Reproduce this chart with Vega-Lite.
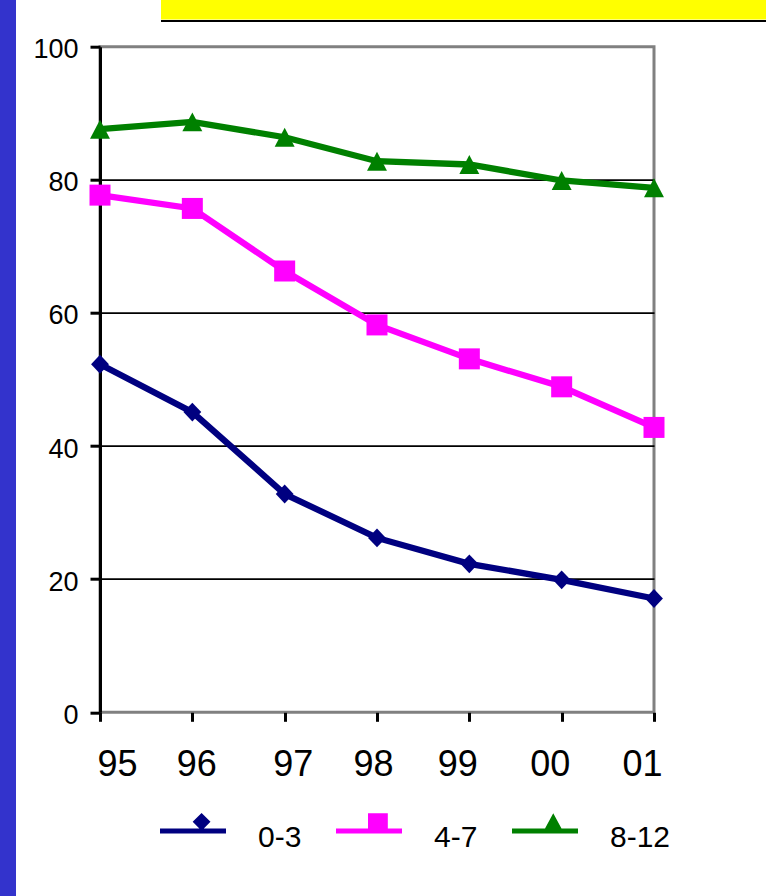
{
  "$schema": "https://vega.github.io/schema/vega-lite/v6.json",
  "padding": 0,
  "background": "white",
  "config": {
    "view": {"stroke": null},
    "font": "Liberation Sans"
  },
  "spacing": 0,
  "bounds": "flush",
  "hconcat": [
    {
      "width": 16,
      "height": 896,
      "view": {"fill": "#3333CC"},
      "data": {"values": []},
      "mark": "rect"
    },
    {
      "spacing": 46.7,
      "bounds": "flush",
      "vconcat": [
        {
          "spacing": 0,
          "bounds": "flush",
          "hconcat": [
            {"width": 145, "height": 21.5, "data": {"values": []}, "mark": "rect"},
            {
              "spacing": 0,
              "bounds": "flush",
              "vconcat": [
                {"width": 605, "height": 19.5, "view": {"fill": "#FFFF00"}, "data": {"values": []}, "mark": "rect"},
                {"width": 605, "height": 2, "view": {"fill": "#000000"}, "data": {"values": []}, "mark": "rect"}
              ]
            }
          ]
        },
        {
          "spacing": 0,
          "bounds": "flush",
          "hconcat": [
            {"width": 84, "height": 665.6, "data": {"values": []}, "mark": "rect"},
            {
              "width": 554,
              "height": 665.6,
              "view": {"stroke": "#808080", "strokeWidth": 3},
              "data": {
                "values": [
                  {"series": "0-3", "year": "95", "value": 52.3},
                  {"series": "0-3", "year": "96", "value": 45.1},
                  {"series": "0-3", "year": "97", "value": 32.8},
                  {"series": "0-3", "year": "98", "value": 26.2},
                  {"series": "0-3", "year": "99", "value": 22.3},
                  {"series": "0-3", "year": "00", "value": 19.9},
                  {"series": "0-3", "year": "01", "value": 17.1},
                  {"series": "4-7", "year": "95", "value": 77.7},
                  {"series": "4-7", "year": "96", "value": 75.7},
                  {"series": "4-7", "year": "97", "value": 66.3},
                  {"series": "4-7", "year": "98", "value": 58.2},
                  {"series": "4-7", "year": "99", "value": 53.1},
                  {"series": "4-7", "year": "00", "value": 48.9},
                  {"series": "4-7", "year": "01", "value": 42.8},
                  {"series": "8-12", "year": "95", "value": 87.6},
                  {"series": "8-12", "year": "96", "value": 88.7},
                  {"series": "8-12", "year": "97", "value": 86.4},
                  {"series": "8-12", "year": "98", "value": 82.8},
                  {"series": "8-12", "year": "99", "value": 82.3},
                  {"series": "8-12", "year": "00", "value": 79.9},
                  {"series": "8-12", "year": "01", "value": 78.8}
                ]
              },
              "encoding": {
                "x": {
                  "field": "year",
                  "type": "ordinal",
                  "sort": ["95", "96", "97", "98", "99", "00", "01"],
                  "scale": {"type": "point", "padding": 0},
                  "axis": {
                    "title": null,
                    "domain": false,
                    "grid": false,
                    "tickColor": "black",
                    "tickWidth": 3,
                    "tickSize": 9,
                    "labelAngle": 0,
                    "labelFontSize": 36,
                    "labelColor": "black",
                    "labelPadding": 26,
                    "labelOffset": {
                      "condition": [
                        {"test": "datum.value === '95'", "value": 17},
                        {"test": "datum.value === '96'", "value": 4},
                        {"test": "datum.value === '97'", "value": 8},
                        {"test": "datum.value === '98'", "value": -4}
                      ],
                      "value": -12
                    }
                  }
                },
                "y": {
                  "field": "value",
                  "type": "quantitative",
                  "scale": {"domain": [0, 100], "nice": false, "zero": true},
                  "axis": {
                    "title": null,
                    "values": [0, 20, 40, 60, 80, 100],
                    "domain": true,
                    "domainColor": "black",
                    "domainWidth": 3,
                    "tickColor": "black",
                    "tickWidth": 3,
                    "tickSize": 10,
                    "labelFontSize": 27,
                    "labelColor": "black",
                    "labelPadding": 12,
                    "labelOffset": 3,
                    "grid": true,
                    "gridColor": "black",
                    "gridWidth": 1.8,
                    "gridOpacity": {
                      "condition": {"test": "datum.value === 0 || datum.value === 100", "value": 0},
                      "value": 1
                    }
                  }
                },
                "color": {
                  "field": "series",
                  "type": "nominal",
                  "scale": {"domain": ["0-3", "4-7", "8-12"], "range": ["#000080", "#FF00FF", "#008000"]},
                  "legend": {
                    "orient": "none",
                    "legendX": 160,
                    "legendY": 805,
                    "direction": "horizontal",
                    "columns": 3,
                    "gridAlign": "each",
                    "title": null,
                    "padding": 0,
                    "symbolSize": 4356,
                    "symbolStrokeWidth": 0,
                    "symbolOpacity": 1,
                    "symbolType": {"expr": "datum.value === '0-3' ? 'M-1,-0.29H1V-0.14H-1Z M0.26,-0.76L0.53,-0.49L0.26,-0.22L-0.01,-0.49Z' : datum.value === '4-7' ? 'M-1,-0.29H1V-0.14H-1Z M-0.03,-0.75H0.57V-0.15H-0.03Z' : 'M-1,-0.29H1V-0.14H-1Z M0.25,-0.75L0.5,-0.29L0,-0.29Z'"},
                    "labelFontSize": 30,
                    "labelColor": "black",
                    "labelOffset": 32,
                    "columnPadding": 34,
                    "labelLimit": 300,
                    "encode": {
                      "symbols": {
                        "update": {
                          "opacity": {"value": 1},
                          "strokeWidth": {"value": 0},
                          "fill": {"signal": "datum.value === '0-3' ? '#000080' : datum.value === '4-7' ? '#FF00FF' : '#008000'"}
                        }
                      }
                    }
                  }
                }
              },
              "layer": [
                {
                  "mark": {"type": "line", "strokeWidth": 6.3}
                },
                {
                  "transform": [{"filter": "datum.series === '0-3'"}],
                  "mark": {"type": "point", "filled": true, "opacity": 1, "size": 441, "shape": "M0,-0.9L0.85,0L0,0.9L-0.85,0Z"}
                },
                {
                  "transform": [{"filter": "datum.series === '4-7'"}],
                  "mark": {"type": "point", "filled": true, "opacity": 1, "size": 441, "shape": "M-1,-1H1V1H-1Z"}
                },
                {
                  "transform": [{"filter": "datum.series === '8-12'"}],
                  "mark": {"type": "point", "filled": true, "opacity": 1, "size": 441, "shape": "M0,-0.9L0.95,0.9L-0.95,0.9Z"}
                }
              ]
            }
          ]
        }
      ]
    }
  ]
}
